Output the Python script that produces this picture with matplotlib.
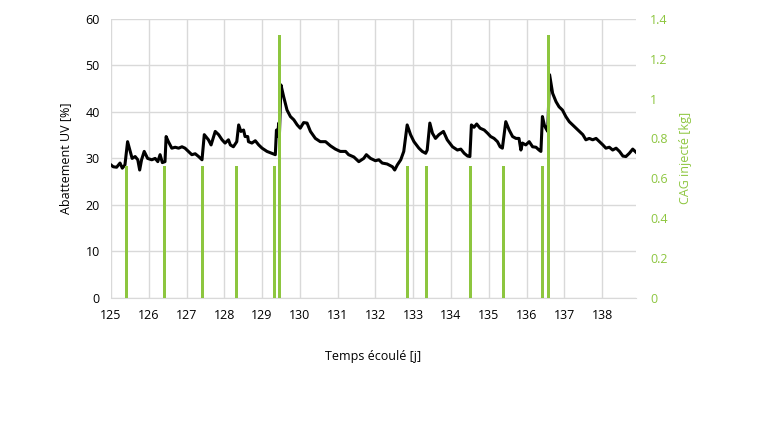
import matplotlib
matplotlib.use("Agg")
import matplotlib.pyplot as plt

# UV abatement (%) over elapsed time (days)
days = [125.00, 125.06, 125.15, 125.24, 125.30, 125.37, 125.44, 125.50, 125.56, 125.64,
        125.71, 125.76, 125.81, 125.88, 125.97, 126.08, 126.17, 126.24, 126.30, 126.36,
        126.43, 126.46, 126.52, 126.61, 126.70, 126.79, 126.88, 126.96, 127.05, 127.14,
        127.23, 127.32, 127.41, 127.47, 127.58, 127.65, 127.76, 127.85, 127.94, 128.02,
        128.11, 128.16, 128.24, 128.33, 128.38, 128.44, 128.51, 128.55, 128.62, 128.64,
        128.73, 128.82, 128.91, 129.00, 129.13, 129.26, 129.35, 129.38, 129.41, 129.44,
        129.46, 129.50, 129.57, 129.66, 129.75, 129.84, 129.93, 130.01, 130.10, 130.19,
        130.28, 130.41, 130.54, 130.68, 130.81, 130.94, 131.07, 131.21, 131.29, 131.43,
        131.56, 131.69, 131.76, 131.87, 132.00, 132.09, 132.18, 132.31, 132.45, 132.51,
        132.58, 132.67, 132.75, 132.84, 132.93, 133.02, 133.15, 133.24, 133.33, 133.37,
        133.44, 133.51, 133.59, 133.68, 133.80, 133.90, 134.04, 134.17, 134.26, 134.35,
        134.44, 134.50, 134.54, 134.61, 134.68, 134.77, 134.88, 134.97, 135.05, 135.14,
        135.23, 135.30, 135.36, 135.45, 135.54, 135.63, 135.72, 135.80, 135.85, 135.89,
        135.98, 136.07, 136.16, 136.25, 136.33, 136.38, 136.42, 136.47, 136.51, 136.56,
        136.61, 136.69, 136.78, 136.86, 136.95, 137.04, 137.13, 137.22, 137.31, 137.40,
        137.49, 137.57, 137.66, 137.75, 137.84, 137.93, 138.02, 138.10, 138.19, 138.28,
        138.37, 138.46, 138.55, 138.63, 138.72, 138.81, 138.90]
abattement = [28.6, 28.2, 28.1, 29.0, 27.9, 28.6, 33.6, 31.8, 30.0, 30.4,
              29.7, 27.5, 29.7, 31.5, 30.0, 29.7, 30.0, 29.3, 30.8, 29.1,
              29.3, 34.7, 33.6, 32.2, 32.4, 32.2, 32.5, 32.2, 31.5, 30.8,
              31.0, 30.4, 29.7, 35.1, 34.0, 32.9, 35.8, 35.1, 34.0, 33.3,
              34.0, 32.9, 32.5, 33.6, 37.2, 35.8, 36.1, 34.7, 34.7, 33.6,
              33.3, 33.8, 32.9, 32.2, 31.5, 31.1, 30.8, 36.1, 34.7, 37.6,
              35.4, 45.8, 43.3, 40.4, 39.0, 38.3, 37.2, 36.5, 37.7, 37.6,
              35.8, 34.3, 33.6, 33.6, 32.7, 32.0, 31.5, 31.5, 30.8, 30.3,
              29.3, 30.0, 30.8, 30.0, 29.5, 29.7, 29.0, 28.8, 28.2, 27.5,
              28.6, 29.7, 31.5, 37.2, 35.1, 33.6, 32.2, 31.5, 31.1, 31.8,
              37.6, 35.4, 34.3, 35.1, 35.8, 34.0, 32.5, 31.8, 32.0, 31.1,
              30.5, 30.4, 37.2, 36.7, 37.4, 36.5, 36.1, 35.4, 34.7, 34.3,
              33.6, 32.5, 32.2, 37.9, 36.1, 34.7, 34.3, 34.3, 31.8, 33.3,
              32.9, 33.6, 32.5, 32.4, 31.8, 31.5, 39.0, 37.2, 36.5, 35.8,
              48.0, 44.0, 42.2, 41.1, 40.4, 39.0, 37.9, 37.2, 36.5, 35.8,
              35.1, 34.0, 34.3, 34.0, 34.3, 33.6, 32.9, 32.2, 32.4, 31.8,
              32.2, 31.5, 30.5, 30.4, 31.1, 32.0, 31.3]

# CAG injections (kg)
inj_days = [125.42, 126.41, 127.42, 128.33, 129.33, 129.46,
            132.84, 133.35, 134.52, 135.39, 136.43, 136.57]
inj_kg = [0.66, 0.66, 0.66, 0.66, 0.66, 1.32,
          0.66, 0.66, 0.66, 0.66, 0.66, 1.32]

green = '#8DC63F'
plt.rcParams['font.family'] = ['Open Sans', 'DejaVu Sans']

fig = plt.figure(figsize=(7.6, 4.4), dpi=100)
ax = fig.add_axes([0.146, 0.323, 0.691, 0.634])

ax.plot(days, abattement, color='black', lw=2.2, zorder=3)
ax.set_xlim(125, 138.9)
ax.set_ylim(0, 60)
ax.set_xticks(range(125, 139))
ax.set_yticks(range(0, 61, 10))
ax.grid(True, color='#d9d9d9', lw=1)
ax.set_axisbelow(True)
for s in ['top', 'right', 'left']:
    ax.spines[s].set_visible(False)
ax.spines['bottom'].set_color('#d9d9d9')
ax.tick_params(length=0, labelsize=9, pad=8)
ax.set_ylabel('Abattement UV [%]', fontsize=9, labelpad=10)
ax.set_xlabel('Temps écoulé [j]', fontsize=9, labelpad=20)

ax2 = ax.twinx()
ax2.bar(inj_days, inj_kg, width=0.08, color=green, zorder=2)
ax2.set_ylim(0, 1.4)
ax2.set_yticks([0, 0.2, 0.4, 0.6, 0.8, 1.0, 1.2, 1.4])
ax2.set_yticklabels(['0', '0.2', '0.4', '0.6', '0.8', '1', '1.2', '1.4'])
for s in ['top', 'right', 'left', 'bottom']:
    ax2.spines[s].set_visible(False)
ax2.tick_params(length=0, labelsize=9, pad=10, colors=green)
ax2.set_ylabel('CAG injecté [kg]', fontsize=9, color=green, labelpad=8)

fig.savefig('out.png', dpi=100)
